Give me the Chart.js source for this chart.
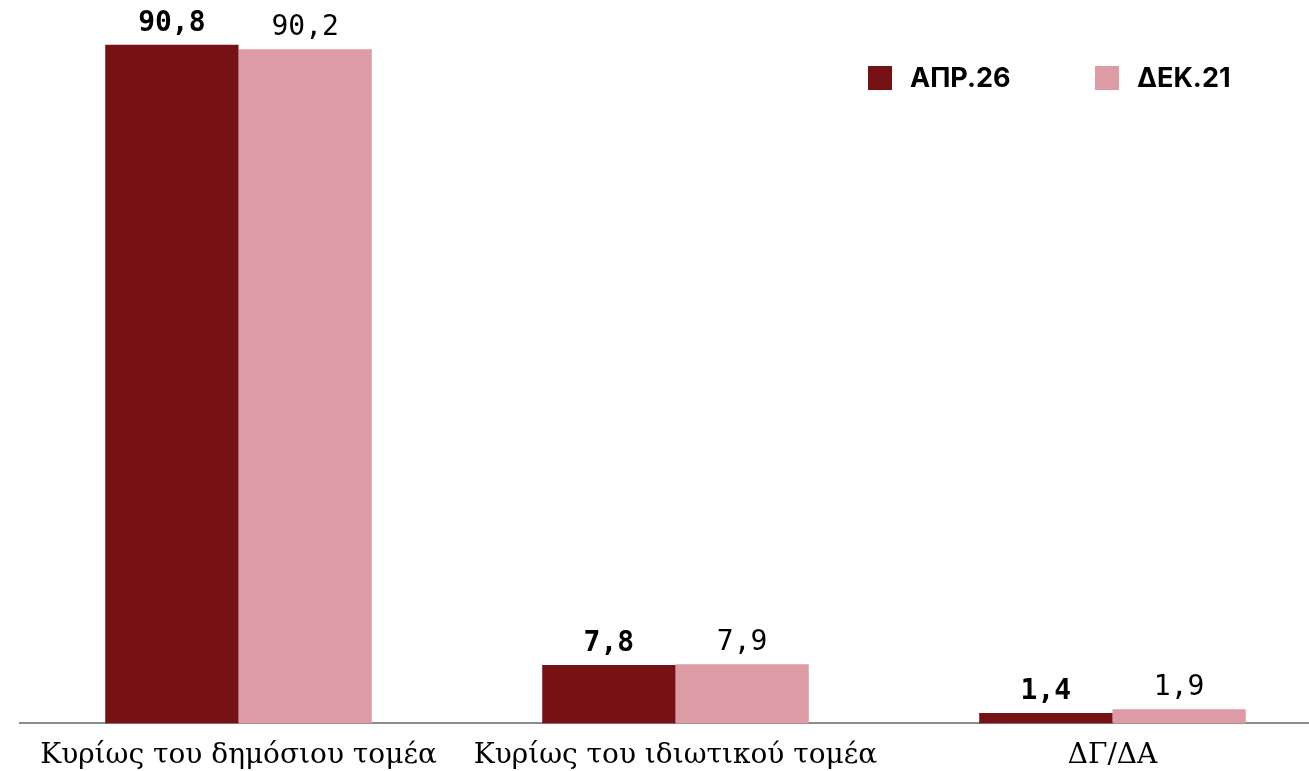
<!DOCTYPE html>
<html>
<head>
<meta charset="utf-8">
<script src="https://cdn.jsdelivr.net/npm/chart.js@4.4.1/dist/chart.umd.min.js"></script>
<style>
    body { margin: 0; background: #fff; overflow: hidden; }
    #grafico { display: block; }
</style>
</head>
<body>
<canvas id="grafico" width="1331" height="785"></canvas>
<script>

//*************  Dados  ****************/
let categorias = ["Κυρίως του δημόσιου τομέα", "Κυρίως του ιδιωτικού τομέα", "ΔΓ/ΔΑ"]
let serie_nomes = ["ΑΠΡ.26", "ΔΕΚ.21"]
let valores_apr26 = [90.8, 7.8, 1.4]
let valores_dek21 = [90.2, 7.9, 1.9]

let cor_escura = "#761115"
let cor_clara = "#dd9ca5"

// valor com virgula (formato grego)
function formatar(v){
    return v.toFixed(1).replace(".", ",")
}

//*************  Plugin: valores em cima das barras  ****************/
const valoresPlugin = {
    id: "valores",
    afterDatasetsDraw(chart){
        let ctx = chart.ctx
        ctx.save()
        ctx.textAlign = "center"
        ctx.textBaseline = "alphabetic"
        ctx.fillStyle = "#000"
        chart.data.datasets.forEach((ds, d) => {
            let meta = chart.getDatasetMeta(d)
            ctx.font = (d == 0 ? "bold " : "") + "28px 'DejaVu Sans Mono', monospace"
            meta.data.forEach((bar, i) => {
                ctx.fillText(formatar(ds.data[i]), bar.x, bar.y - 14)
            })
        })
        ctx.restore()
    }
}

//*************  Plugin: legenda no canto  ****************/
const legendaPlugin = {
    id: "legenda",
    afterDraw(chart){
        let ctx = chart.ctx
        let posicoes = [868, 1095] // x de cada quadrado
        ctx.save()
        ctx.font = "bold 27px Inter, Roboto, sans-serif"
        ctx.textBaseline = "middle"
        ctx.textAlign = "left"
        chart.data.datasets.forEach((ds, d) => {
            ctx.fillStyle = ds.backgroundColor
            ctx.fillRect(posicoes[d], 66, 24, 24)
            ctx.fillStyle = "#000"
            ctx.fillText(ds.label, posicoes[d] + 42, 79)
        })
        ctx.restore()
    }
}

const GP = document.querySelector("#grafico")

new Chart(GP, {
    type: "bar",
    data: {
        labels: categorias,
        datasets: [
            {
                label: serie_nomes[0],
                data: valores_apr26,
                backgroundColor: cor_escura,
                categoryPercentage: 0.61,
                barPercentage: 1
            },
            {
                label: serie_nomes[1],
                data: valores_dek21,
                backgroundColor: cor_clara,
                categoryPercentage: 0.61,
                barPercentage: 1
            }
        ]
    },
    options: {
        responsive: false,
        animation: false,
        layout: {
            padding: { left: 20, right: 0, top: 0, bottom: 4 }
        },
        plugins: {
            legend: { display: false },
            tooltip: { enabled: false }
        },
        scales: {
            x: {
                grid: { display: false },
                border: { display: true, color: "#8c8c8c", width: 2 },
                ticks: {
                    color: "#000",
                    padding: 8,
                    font: { family: "'DejaVu Serif', serif", size: 28 }
                }
            },
            y: {
                display: false,
                beginAtZero: true,
                min: 0,
                max: 96.8
            }
        }
    },
    plugins: [valoresPlugin, legendaPlugin]
})

</script>
</body>
</html>
